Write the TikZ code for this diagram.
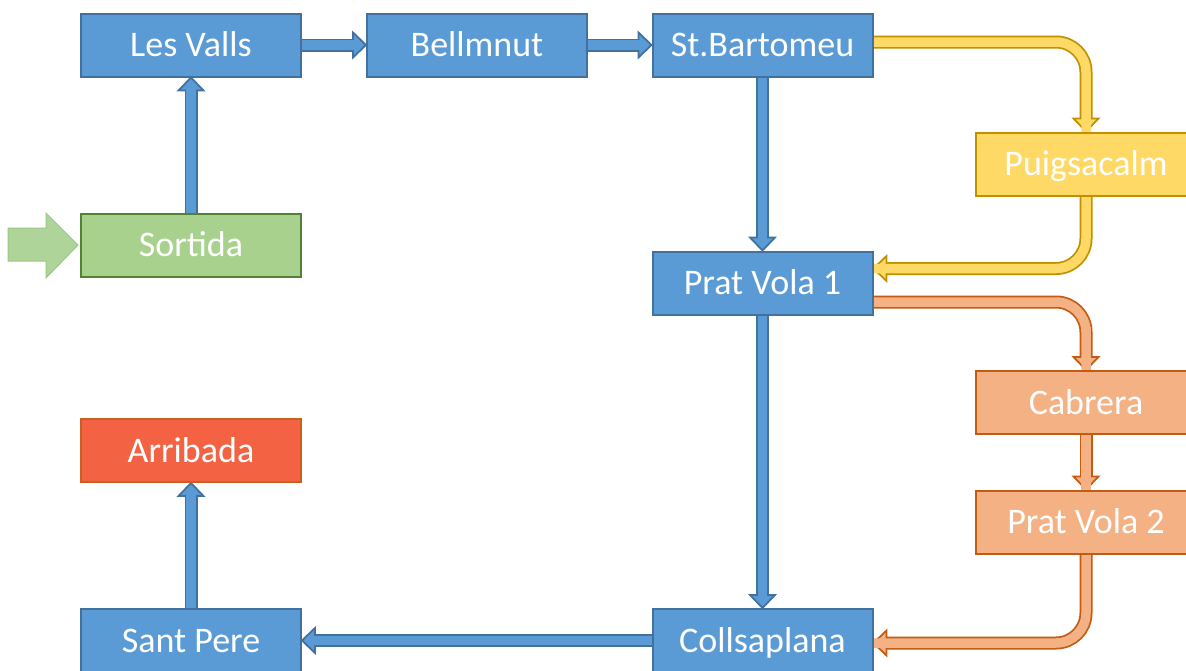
\documentclass[tikz,border=0pt]{standalone}
\usepackage{fontspec}
\setmainfont{Carlito}
\usetikzlibrary{calc}
\pgfdeclarelayer{background}
\pgfsetlayers{background,main}

\definecolor{bluefill}{HTML}{5B9BD5}
\definecolor{blueline}{HTML}{41719C}
\definecolor{greenfill}{HTML}{A9D18E}
\definecolor{greenline}{HTML}{548235}
\definecolor{startfill}{HTML}{AFD49A}
\definecolor{startline}{HTML}{9CC882}
\definecolor{yelfill}{HTML}{FFD966}
\definecolor{yelline}{HTML}{BF9000}
\definecolor{orafill}{HTML}{F4B183}
\definecolor{oraline}{HTML}{C55A11}
\definecolor{endfill}{HTML}{F26243}
\definecolor{endline}{HTML}{C9601E}

\tikzset{
  stage/.style={rectangle, minimum width=220pt, minimum height=63pt, inner sep=0pt,
    line width=2pt, text=white, text height=23pt, text depth=0pt,
    font=\fontsize{36}{40}\selectfont},
  bluebox/.style={stage, fill=bluefill, draw=blueline},
  greenbox/.style={stage, fill=greenfill, draw=greenline},
  yelbox/.style={stage, fill=yelfill, draw=yelline},
  orabox/.style={stage, fill=orafill, draw=oraline},
  endbox/.style={stage, fill=endfill, draw=endline},
  % block-arrow parts: outline stroke, inner fill stroke, head
  blu out/.style={draw=blueline, line width=13pt},
  blu in/.style={draw=bluefill, line width=9.5pt},
  blu head/.style={fill=bluefill, draw=blueline, line width=1.75pt, line join=miter},
  yel out/.style={draw=yelline, line width=13pt, rounded corners=30pt},
  yel in/.style={draw=yelfill, line width=9.5pt, rounded corners=30pt},
  yel head/.style={fill=yelfill, draw=yelline, line width=1.75pt, line join=miter},
  ora out/.style={draw=oraline, line width=13pt, rounded corners=30pt},
  ora in/.style={draw=orafill, line width=9.5pt, rounded corners=30pt},
  ora head/.style={fill=orafill, draw=oraline, line width=1.75pt, line join=miter},
  startarrow/.style={fill=startfill, draw=startline, line width=1pt, line join=miter},
}

% #1 colour set, #2 path up to the last corner, #3 last corner, #4 tip
\newcommand\flowarrow[4]{%
  \coordinate (fa-base) at ($(#4)!13pt!(#3)$);
  \draw[#1 out] #2 -- (fa-base);
  \filldraw[#1 head] ($(fa-base)!12.5pt!90:(#4)$) -- (#4) -- ($(fa-base)!12.5pt!-90:(#4)$) -- cycle;
  \draw[#1 in] #2 -- (fa-base) -- ($(fa-base)!1.75pt!(#4)$);
}

\begin{document}
\begin{tikzpicture}[x=1pt, y=-1pt]
\useasboundingbox (0,0) rectangle (1186,670);
\clip (0,0) rectangle (1186,670);

% stages
\node[bluebox]   (lesvalls) at (191,45)    {Les Valls};
\node[bluebox]   (bellmnut) at (477,45)    {Bellmnut};
\node[bluebox]   (stbart)   at (762.5,45)  {St.Bartomeu};
\node[yelbox]    (puig)     at (1086,164)  {Puigsacalm};
\node[greenbox]  (sortida)  at (191,245)   {Sortida};
\node[bluebox]   (pv1)      at (762.5,283) {Prat Vola 1};
\node[orabox]    (cabrera)  at (1086,402.5){Cabrera};
\node[endbox]    (arribada) at (191,450.5) {Arribada};
\node[orabox]    (pv2)      at (1086,522)  {Prat Vola 2};
\node[bluebox]   (santpere) at (191,640.5) {Sant Pere};
\node[bluebox]   (coll)     at (762.5,640.5){Collsaplana};

\begin{pgfonlayer}{background}
  % start marker
  \draw[startarrow, shift={(sortida.west)}]
    (-72,-17) -- (-34,-17) -- (-34,-32) -- (-2,0) -- (-34,33) -- (-34,16) -- (-72,16) -- cycle;

  % main route
  \flowarrow{blu}{(sortida.north)}{sortida.north}{lesvalls.south}
  \flowarrow{blu}{(lesvalls.east)}{lesvalls.east}{bellmnut.west}
  \flowarrow{blu}{(bellmnut.east)}{bellmnut.east}{stbart.west}
  \flowarrow{blu}{(stbart.south)}{stbart.south}{pv1.north}
  \flowarrow{blu}{(pv1.south)}{pv1.south}{coll.north}
  \flowarrow{blu}{(coll.west)}{coll.west}{santpere.east}
  \flowarrow{blu}{(santpere.north)}{santpere.north}{arribada.south}

  % Puigsacalm loop
  \coordinate (y1) at ([yshift=3pt]stbart.east);
  \coordinate (y2) at (puig.north |- y1);
  \flowarrow{yel}{(y1) -- (y2)}{y2}{puig.north}
  \coordinate (y3) at ([yshift=14.5pt]pv1.east);
  \coordinate (y4) at (puig.south |- y3);
  \flowarrow{yel}{(puig.south) -- (y4)}{y4}{y3}

  % Cabrera loop
  \coordinate (o1) at ([yshift=-19pt]pv1.east);
  \coordinate (o2) at (cabrera.north |- o1);
  \flowarrow{ora}{(o1) -- (o2)}{o2}{cabrera.north}
  \flowarrow{ora}{(cabrera.south)}{cabrera.south}{pv2.north}
  \coordinate (o3) at ([yshift=-2.5pt]coll.east);
  \coordinate (o4) at (pv2.south |- o3);
  \flowarrow{ora}{(pv2.south) -- (o4)}{o4}{o3}
\end{pgfonlayer}
\end{tikzpicture}
\end{document}
